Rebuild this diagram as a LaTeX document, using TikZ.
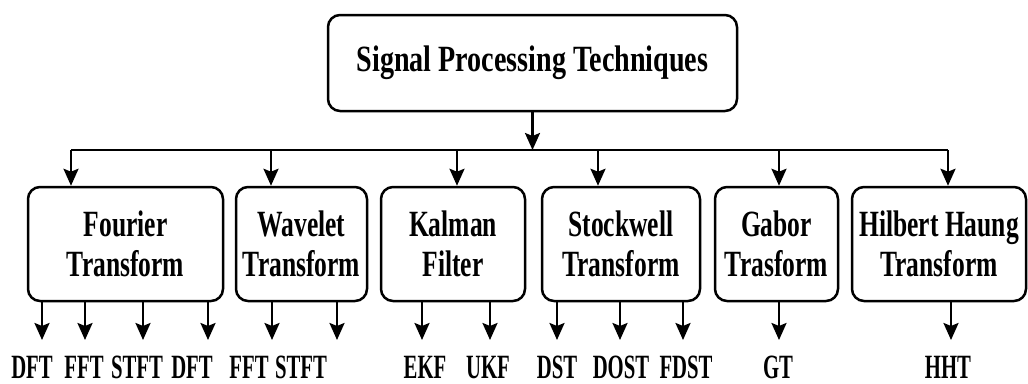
\documentclass[tikz,border=0pt]{standalone}
\usepackage{fontspec}
\usetikzlibrary{arrows.meta}
\newfontfamily\titlefont{Liberation Serif}[FakeStretch=0.76]
\newfontfamily\boxfont{Liberation Serif}[FakeStretch=0.69]
\newfontfamily\labfont{Liberation Serif}[FakeStretch=0.61]
\tikzset{
  box/.style={draw, line width=2.5pt, rounded corners=12pt, rectangle, align=center, inner sep=0pt},
  subbox/.style={box, minimum height=114pt, font=\boxfont\bfseries\fontsize{37}{40}\selectfont},
  lab/.style={anchor=base, inner sep=0pt, font=\labfont\bfseries\fontsize{34}{36}\selectfont},
  link/.style={line width=2.5pt},
  arr/.style={line width=2.5pt, -{Stealth[length=17pt,width=15pt,inset=3pt]}}
}
\begin{document}
\begin{tikzpicture}[x=1pt,y=-1pt]
\useasboundingbox (0,0) rectangle (1028,383);
% top
\node[box, minimum width=409pt, minimum height=96pt, font=\titlefont\bfseries\fontsize{37}{40}\selectfont] (top) at (532.5,63) {Signal Processing Techniques};
% sub boxes
\node[subbox, minimum width=195pt] (F) at (125.5,244) {Fourier\\Transform};
\node[subbox, minimum width=131pt] (W) at (301.5,244) {Wavelet\\Transform};
\node[subbox, minimum width=144pt] (K) at (453,244) {Kalman\\Filter};
\node[subbox, minimum width=158pt] (S) at (621,244) {Stockwell\\Transform};
\node[subbox, minimum width=123pt] (G) at (776.5,244) {Gabor\\Trasform};
\node[subbox, minimum width=174pt] (H) at (939,244) {Hilbert Haung\\Transform};
% bus
\coordinate (bc) at (532.5,150);
\coordinate (b1) at (71,150);
\coordinate (b2) at (271,150);
\coordinate (b3) at (457,150);
\coordinate (b4) at (598,150);
\coordinate (b5) at (779,150);
\coordinate (b6) at (948,150);
\draw[arr] (top.south) -- (bc);
\draw[link] (b1) -- (b6);
\draw[arr] (b1) -- (b1 |- F.north);
\draw[arr] (b2) -- (b2 |- W.north);
\draw[arr] (b3) -- (b3 |- K.north);
\draw[arr] (b4) -- (b4 |- S.north);
\draw[arr] (b5) -- (b5 |- G.north);
\draw[arr] (b6) -- (b6 |- H.north);
% arrow tips
\coordinate (t1) at (42,340);
\coordinate (t2) at (85,340);
\coordinate (t3) at (143,340);
\coordinate (t4) at (208,340);
\coordinate (t5) at (272,340);
\coordinate (t6) at (337,340);
\coordinate (t7) at (422,340);
\coordinate (t8) at (490,340);
\coordinate (t9) at (557,340);
\coordinate (t10) at (620,340);
\coordinate (t11) at (683,340);
\coordinate (t12) at (779,340);
\coordinate (t13) at (951,340);
\foreach \t/\n in {t1/F,t2/F,t3/F,t4/F,t5/W,t6/W,t7/K,t8/K,t9/S,t10/S,t11/S,t12/G,t13/H}
  \draw[arr] (\n.south -| \t) -- (\t);
% labels
\node[lab] (l1) at (32,378) {DFT};
\node[lab] (l2) at (84,378) {FFT};
\node[lab] (l3) at (137,378) {STFT};
\node[lab] (l4) at (192,378) {DFT};
\node[lab] (l5) at (249,378) {FFT};
\node[lab] (l6) at (301,378) {STFT};
\node[lab] (l7) at (425,378) {EKF};
\node[lab] (l8) at (488,378) {UKF};
\node[lab] (l9) at (557,378) {DST};
\node[lab] (l10) at (621,378) {DOST};
\node[lab] (l11) at (686,378) {FDST};
\node[lab] (l12) at (778,378) {GT};
\node[lab] (l13) at (948,378) {HHT};
\end{tikzpicture}
\end{document}
